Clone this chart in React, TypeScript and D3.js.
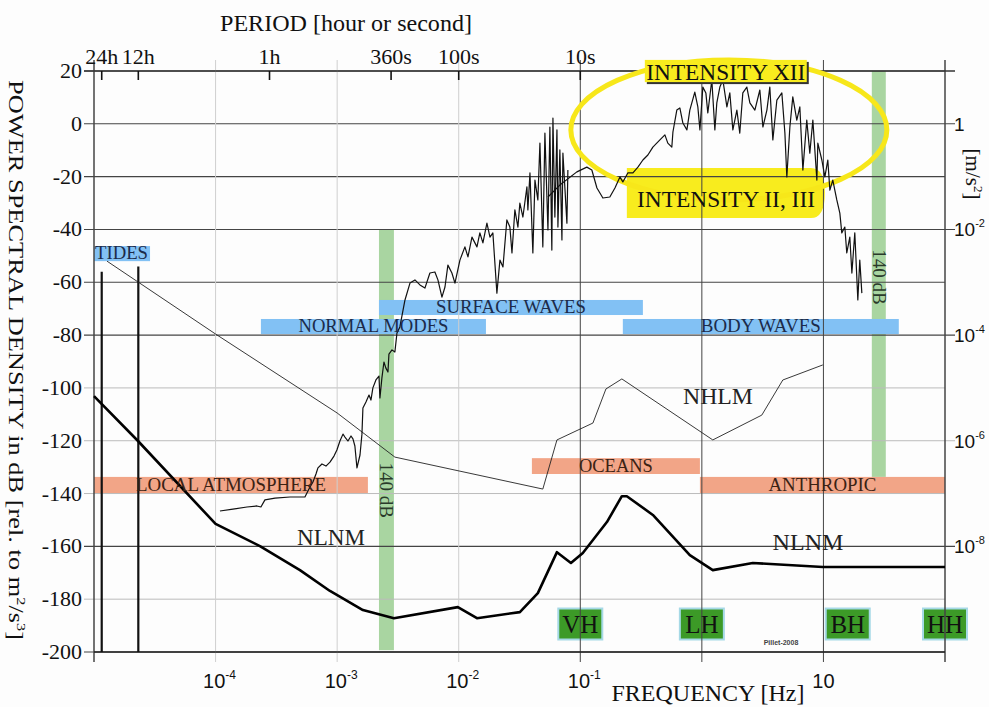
import React from "react";
import * as d3 from "d3";

const serif = "'Liberation Serif', 'Times New Roman', serif";
const sans = "'Liberation Sans', Arial, sans-serif";

// power spectral density axis (dB)
const dbTicks = [20, 0, -20, -40, -60, -80, -100, -120, -140, -160, -180, -200];
const darkDb = [20, 0, -20, -40, -60, -80, -160, -200];

// frequency decades (Hz)
const decadeFreqs = [1e-5, 1e-4, 1e-3, 1e-2, 1e-1, 1, 10, 100];
const lightDecades = [1e-4, 1e-3, 1e-2];
const bottomLabelFreqs = [1e-4, 1e-3, 1e-2, 1e-1, 10];
const bottomLabelExps = ["-4", "-3", "-2", "-1", ""];

// acceleration axis on the right
const rightTickDb = [0, -40, -80, -120, -160];
const rightTickExps = ["", "-2", "-4", "-6", "-8"];

// period axis on top
const periodLabels = ["24h", "12h", "1h", "360s", "100s", "10s"];
const periodSeconds = [86400, 43200, 3600, 360, 100, 10];

// tide lines
const tideSeconds = [86400, 43200];
const tideTopDb = [-56, -54];

// New Low Noise Model (log10 Hz, dB)
const nlnmLogF = [-5.0, -4.638, -4.0, -3.635, -3.306, -3.059, -2.788, -2.533, -2.007, -1.85, -1.497, -1.349, -1.192, -1.077, -0.979, -0.781, -0.658, -0.617, -0.403, -0.099, 0.09, 0.419, 0.995, 2.0];
const nlnmDb = [-103.1, -120.1, -151.5, -159.9, -169.0, -176.9, -184.1, -187.2, -183.0, -187.2, -184.9, -177.7, -162.2, -166.3, -162.5, -150.8, -141.0, -141.0, -148.1, -163.3, -169.0, -166.3, -167.8, -167.8];

// New High Noise Model
const nhlmLogF = [-4.893, -4.0, -3.0, -2.525, -1.308, -1.192, -0.896, -0.789, -0.658, 0.09, 0.493, 0.666, 0.995];
const nhlmDb = [-52.0, -79.6, -109.5, -126.2, -138.3, -119.7, -113.3, -100.4, -96.6, -119.7, -110.3, -97.0, -91.3];

// earthquake spectrum, long period part
const quakeLowLogF = [
  -3.964, -3.857, -3.742, -3.66, -3.627, -3.594, -3.511, -3.388, -3.265, -3.232,
  -3.199, -3.174, -3.158, -3.125, -3.092, -3.059, -3.026, -3.002, -2.977, -2.952,
  -2.936, -2.911, -2.886, -2.87, -2.854, -2.837, -2.812, -2.796, -2.788, -2.763,
  -2.738, -2.722, -2.706, -2.681, -2.656, -2.648, -2.632, -2.615, -2.599, -2.582,
  -2.574, -2.549, -2.525, -2.508, -2.484, -2.442, -2.401, -2.36, -2.319, -2.278,
  -2.237, -2.196, -2.171, -2.138, -2.113, -2.089, -2.056, -2.031, -1.99, -1.949,
  -1.924, -1.891, -1.85, -1.826, -1.801, -1.768, -1.743, -1.719, -1.686, -1.661,
  -1.636, -1.604, -1.579, -1.562, -1.538, -1.513, -1.497, -1.472, -1.439, -1.431,
  -1.414, -1.39, -1.373, -1.349, -1.332, -1.308, -1.291, -1.266, -1.25, -1.234,
  -1.225, -1.209, -1.192, -1.184, -1.168, -1.151, -1.143, -1.11, -1.102,
];
const quakeLowDb = [
  -146.6, -145.9, -145.1, -144.7, -145.1, -142.4, -141.7, -141.3, -141.3, -138.3,
  -135.6, -132.6, -130.3, -128.8, -129.6, -128.1, -125.8, -123.5, -120.1, -117.5,
  -118.6, -120.1, -118.2, -119.3, -122.0, -130.3, -125.4, -117.5, -107.6, -105.3,
  -102.7, -104.6, -100.0, -97.0, -95.5, -103.8, -96.3, -90.2, -92.5, -94.0,
  -87.2, -85.6, -86.4, -79.2, -76.9, -66.7, -60.3, -59.1, -61.0, -62.2,
  -56.5, -56.1, -59.1, -65.6, -61.8, -53.5, -56.5, -60.3, -51.6, -46.6,
  -50.4, -42.9, -46.6, -41.3, -45.1, -37.6, -42.9, -41.3, -64.1, -51.6,
  -54.2, -36.4, -39.1, -48.9, -32.6, -39.1, -30.0, -35.3, -23.9, -32.6,
  -18.6, -48.9, -21.3, -28.8, -7.3, -46.6, -3.5, -40.2, -1.2, -47.8,
  2.2, -35.3, -2.3, -39.1, -9.9, -44.0, -11.1, -37.6, -17.5,
];

// earthquake spectrum, short period part
const quakeHighLogF = [
  -1.266, -1.168, -1.028, -0.946, -0.905, -0.863, -0.814, -0.757, -0.715, -0.674,
  -0.65, -0.609, -0.567, -0.526, -0.485, -0.444, -0.403, -0.345, -0.304, -0.28,
  -0.247, -0.238, -0.206, -0.181, -0.156, -0.123, -0.099, -0.058, -0.033, -0.016,
  0.008, 0.033, 0.049, 0.082, 0.107, 0.123, 0.148, 0.173, 0.206, 0.23,
  0.255, 0.288, 0.312, 0.337, 0.37, 0.395, 0.436, 0.477, 0.502, 0.535,
  0.559, 0.584, 0.617, 0.658, 0.683, 0.699, 0.724, 0.748, 0.781, 0.806,
  0.831, 0.863, 0.888, 0.913, 0.946, 0.954, 0.987, 1.012, 1.036, 1.053,
  1.077, 1.11, 1.135, 1.151, 1.176, 1.192, 1.217, 1.234, 1.258, 1.283, 1.299, 1.316,
];
const quakeHighDb = [
  -27.7, -23.2, -18.2, -16.4, -17.5, -24.3, -28.1, -27.7, -24.3, -20.1,
  -22.0, -18.6, -18.6, -16.4, -13.7, -11.8, -8.8, -6.1, -4.2, -7.3,
  -8.8, -3.1, 5.2, 6.0, 0.3, -2.3, 5.2, 12.0, 6.4, -2.3,
  13.9, 11.7, 4.1, 16.6, -2.3, 7.9, 13.9, 16.6, 6.4, 11.7,
  -2.3, 5.2, -3.5, 11.7, 13.9, 7.9, 5.2, 12.8, -1.2, 5.2,
  13.9, -6.1, 9.0, 11.7, -3.5, -20.1, -1.2, 10.2, 1.4, 6.4,
  -17.5, 1.4, -11.1, 1.4, -21.3, -7.3, -13.7, -20.1, -13.7, -25.1,
  -21.3, -28.8, -33.8, -41.3, -39.1, -48.9, -42.9, -56.5, -41.3, -66.7, -51.6, -64.1,
];

// source bands
const bandNames = ["TIDES", "NORMAL MODES", "SURFACE WAVES", "BODY WAVES", "LOCAL ATMOSPHERE", "OCEANS", "ANTHROPIC"];
const bandLogF0 = [-5.0, -3.627, -2.656, -0.65, -5.0, -1.398, -0.016];
const bandLogF1 = [-4.539, -1.776, -0.485, 1.62, -2.747, -0.016, 2.0];
const bandDbTop = [-46.3, -73.9, -66.7, -73.9, -133.7, -126.6, -133.7];
const bandDbBottom = [-52.0, -79.6, -72.4, -79.6, -139.8, -132.6, -139.8];
const bandIsWave = [true, true, true, true, false, false, false];

// 140 dB dynamic range bars
const rangeLogF0 = [-2.656, 1.398];
const rangeLogF1 = [-2.533, 1.513];
const rangeDbTop = [-40.2, 20];
const rangeDbBottom = [-199.3, -133.7];
const rangeLabelDb = [-138.7, -58];

// instrument band codes
const stationCodes = ["VH", "LH", "BH", "HH"];
const stationLogF = [-1.0, 0.0, 1.2, 2.0];
const stationDb = -189.4;

const textLen: Record<string, number> = {
  TIDES: 53, "NORMAL MODES": 150, "SURFACE WAVES": 150, "BODY WAVES": 120,
  "LOCAL ATMOSPHERE": 190, OCEANS: 74, ANTHROPIC: 108,
};

export default function App() {
  const W = 989, H = 707;
  const x = d3.scaleLog().domain([1e-5, 1e2]).range([94, 945]);
  const y = d3.scaleLinear().domain([-200, 20]).range([652, 71]);
  const fx = (lf: number) => x(Math.pow(10, lf));
  const line = d3.line<[number, number]>().x((d) => fx(d[0])).y((d) => y(d[1]));
  const pts = (a: number[], b: number[]) => a.map((v, i) => [v, b[i]] as [number, number]);

  const x0 = x(1e-5), x1 = x(1e2), yTop = y(20), yBot = y(-200);

  return (
    <svg width={W} height={H} style={{ position: "absolute", left: 0, top: 0, background: "#fdfdfd" }}>
      <rect width={W} height={H} fill="#fdfdfd" />

      {/* 140 dB bars */}
      {rangeLogF0.map((f, i) => (
        <rect key={i} x={fx(f)} y={y(rangeDbTop[i])} width={fx(rangeLogF1[i]) - fx(f)}
          height={y(rangeDbBottom[i]) - y(rangeDbTop[i])} fill="#a9d5a1" />
      ))}

      {/* bands */}
      {bandNames.map((n, i) => {
        const a = fx(bandLogF0[i]), b = fx(bandLogF1[i]);
        return (
          <rect key={n} x={a} y={y(bandDbTop[i])} width={b - a} height={y(bandDbBottom[i]) - y(bandDbTop[i])}
            fill={bandIsWave[i] ? "#82c1f4" : "#f2a587"} />
        );
      })}

      {/* intensity II, III highlight */}
      <path d={`M${fx(-0.617)},${y(-16.7)} H${fx(1.012) - 14} Q${fx(1.012)},${y(-16.7)} ${fx(1.012)},${y(-26)} Q${fx(1.012)},${y(-35.7)} ${fx(1.012) - 14},${y(-35.7)} H${fx(-0.617)} Z`} fill="#f8ec1e" />

      {/* station boxes */}
      {stationCodes.map((c, i) => (
        <g key={c}>
          <rect x={fx(stationLogF[i]) - 22} y={y(stationDb) - 15.5} width={44} height={31} fill="#3c9a27" stroke="#a6d9e6" strokeWidth={2} />
          <text x={fx(stationLogF[i])} y={y(stationDb) + 9} textAnchor="middle" fontFamily={serif} fontSize={25} fill="#111">{c}</text>
        </g>
      ))}

      {/* horizontal grid */}
      {dbTicks.map((d) => (
        <line key={d} x1={x0 - 10} x2={rightTickDb.includes(d) ? x1 + 10 : x1} y1={y(d)} y2={y(d)}
          stroke={darkDb.includes(d) ? "#444" : "#bbb"} strokeWidth={darkDb.includes(d) ? 1.1 : 1} />
      ))}
      {/* vertical grid */}
      {decadeFreqs.map((f) => (
        <line key={f} x1={x(f)} x2={x(f)} y1={yTop - 11} y2={yBot + 10}
          stroke={lightDecades.includes(f) ? "#cfcfcf" : "#444"} strokeWidth={f === 1e-5 || f === 100 ? 1.5 : 1} />
      ))}
      <line x1={x0 - 10} x2={x1 + 10} y1={yTop} y2={yTop} stroke="#333" strokeWidth={1.5} />
      <line x1={x0} x2={x1} y1={yBot} y2={yBot} stroke="#222" strokeWidth={1.5} />

      {/* tide lines */}
      {tideSeconds.map((s, i) => (
        <line key={s} x1={x(1 / s)} x2={x(1 / s)} y1={y(tideTopDb[i])} y2={yBot} stroke="#111" strokeWidth={2.2} />
      ))}

      {/* period ticks */}
      {periodSeconds.map((s, i) => (
        <g key={s}>
          <line x1={x(1 / s)} x2={x(1 / s)} y1={yTop} y2={yTop + 9} stroke="#111" strokeWidth={1.6} />
          <text x={x(1 / s)} y={64} textAnchor="middle" fontFamily={serif} fontSize={22} fill="#111">{periodLabels[i]}</text>
        </g>
      ))}

      {/* yellow ellipse */}
      <ellipse cx={fx(0.222)} cy={y(-2.3)} rx={158} ry={70} fill="none" stroke="#f7e71a" strokeWidth={5} />

      {/* curves */}
      <path d={line(pts(nhlmLogF, nhlmDb)) || ""} fill="none" stroke="#222" strokeWidth={0.9} />
      <path d={line(pts(quakeLowLogF, quakeLowDb)) || ""} fill="none" stroke="#111" strokeWidth={1.2} strokeLinejoin="round" />
      <path d={line(pts(quakeHighLogF, quakeHighDb)) || ""} fill="none" stroke="#111" strokeWidth={1.2} strokeLinejoin="round" />
      <path d={line(pts(nlnmLogF, nlnmDb)) || ""} fill="none" stroke="#000" strokeWidth={2.6} strokeLinejoin="round" />

      {/* band labels */}
      {bandNames.map((n, i) => {
        const a = fx(bandLogF0[i]), b = fx(bandLogF1[i]);
        const tides = n === "TIDES";
        return (
          <text key={n} x={tides ? a + 1 : (a + b) / 2} y={y(bandDbBottom[i]) - 2} textAnchor={tides ? "start" : "middle"}
            fontFamily={serif} fontSize={19} fill={bandIsWave[i] ? "#1c2b4a" : "#3b2214"}
            textLength={textLen[n]} lengthAdjust="spacingAndGlyphs">{n}</text>
        );
      })}

      {/* 140 dB labels */}
      {rangeLogF0.map((f, i) => (
        <text key={i} transform={`translate(${fx(f) + 1},${y(rangeLabelDb[i])}) rotate(90)`} textAnchor="middle"
          fontFamily={serif} fontSize={19} fill="#2a3a2a">140 dB</text>
      ))}

      {/* model labels */}
      <text x={331} y={545} textAnchor="middle" fontFamily={serif} fontSize={23} fill="#222" textLength={68} lengthAdjust="spacingAndGlyphs">NLNM</text>
      <text x={808} y={550} textAnchor="middle" fontFamily={serif} fontSize={23} fill="#222" textLength={71} lengthAdjust="spacingAndGlyphs">NLNM</text>
      <text x={718} y={404} textAnchor="middle" fontFamily={serif} fontSize={23} fill="#222" textLength={70} lengthAdjust="spacingAndGlyphs">NHLM</text>
      <text x={726} y={207} textAnchor="middle" fontFamily={serif} fontSize={24} fill="#111" textLength={178} lengthAdjust="spacingAndGlyphs">INTENSITY II, III</text>

      {/* intensity XII */}
      <rect x={fx(-0.469) + 2} y={y(24.2) + 2} width={fx(0.863) - fx(-0.469)} height={y(15.8) - y(24.2)} fill="#333" />
      <rect x={fx(-0.469)} y={y(24.2)} width={fx(0.863) - fx(-0.469)} height={y(15.8) - y(24.2)} fill="#f8ec1e" />
      <text x={(fx(-0.469) + fx(0.863)) / 2} y={80} textAnchor="middle" fontFamily={serif} fontSize={23} fill="#111" textLength={159} lengthAdjust="spacingAndGlyphs">INTENSITY XII</text>

      {/* left axis labels */}
      {dbTicks.map((d) => (
        <text key={d} x={82} y={y(d) + 7} textAnchor="end" fontFamily={serif} fontSize={22} fill="#111">{d}</text>
      ))}
      <text transform="translate(9,360) rotate(90)" textAnchor="middle" fontFamily={serif} fontSize={21} fill="#111"
        textLength={560} lengthAdjust="spacingAndGlyphs">
        POWER SPECTRAL DENSITY in dB [rel. to m<tspan dy={-8} fontSize={13}>2</tspan><tspan dy={8}>/s</tspan><tspan dy={-8} fontSize={13}>3</tspan><tspan dy={8}>]</tspan>
      </text>

      {/* right axis labels */}
      {rightTickDb.map((d, i) => (
        <text key={d} x={954} y={y(d) + 7} fontFamily={sans} fontSize={19} fill="#111">
          {rightTickExps[i] === "" ? "1" : "10"}
          {rightTickExps[i] !== "" && <tspan dy={-9} fontSize={11}>{rightTickExps[i]}</tspan>}
        </text>
      ))}
      <text transform="translate(966,174) rotate(90)" textAnchor="middle" fontFamily={serif} fontSize={21} fill="#111">
        [m/s<tspan dy={-8} fontSize={13}>2</tspan><tspan dy={8}>]</tspan>
      </text>

      {/* bottom axis labels */}
      {bottomLabelFreqs.map((f, i) => (
        <text key={f} x={x(f) + (bottomLabelExps[i] ? 4 : 0)} y={688} textAnchor="middle" fontFamily={sans} fontSize={20} fill="#111">
          10{bottomLabelExps[i] && <tspan dy={-9} fontSize={12}>{bottomLabelExps[i]}</tspan>}
        </text>
      ))}
      <text x={708} y={701} textAnchor="middle" fontFamily={serif} fontSize={23} fill="#111" textLength={193} lengthAdjust="spacingAndGlyphs">FREQUENCY [Hz]</text>

      {/* top title */}
      <text x={346} y={31} textAnchor="middle" fontFamily={serif} fontSize={23} fill="#111" textLength={252} lengthAdjust="spacingAndGlyphs">PERIOD [hour or second]</text>

      <text x={781} y={645} textAnchor="middle" fontFamily={sans} fontSize={7} fontWeight="bold" fill="#444">Pillet-2008</text>
    </svg>
  );
}
